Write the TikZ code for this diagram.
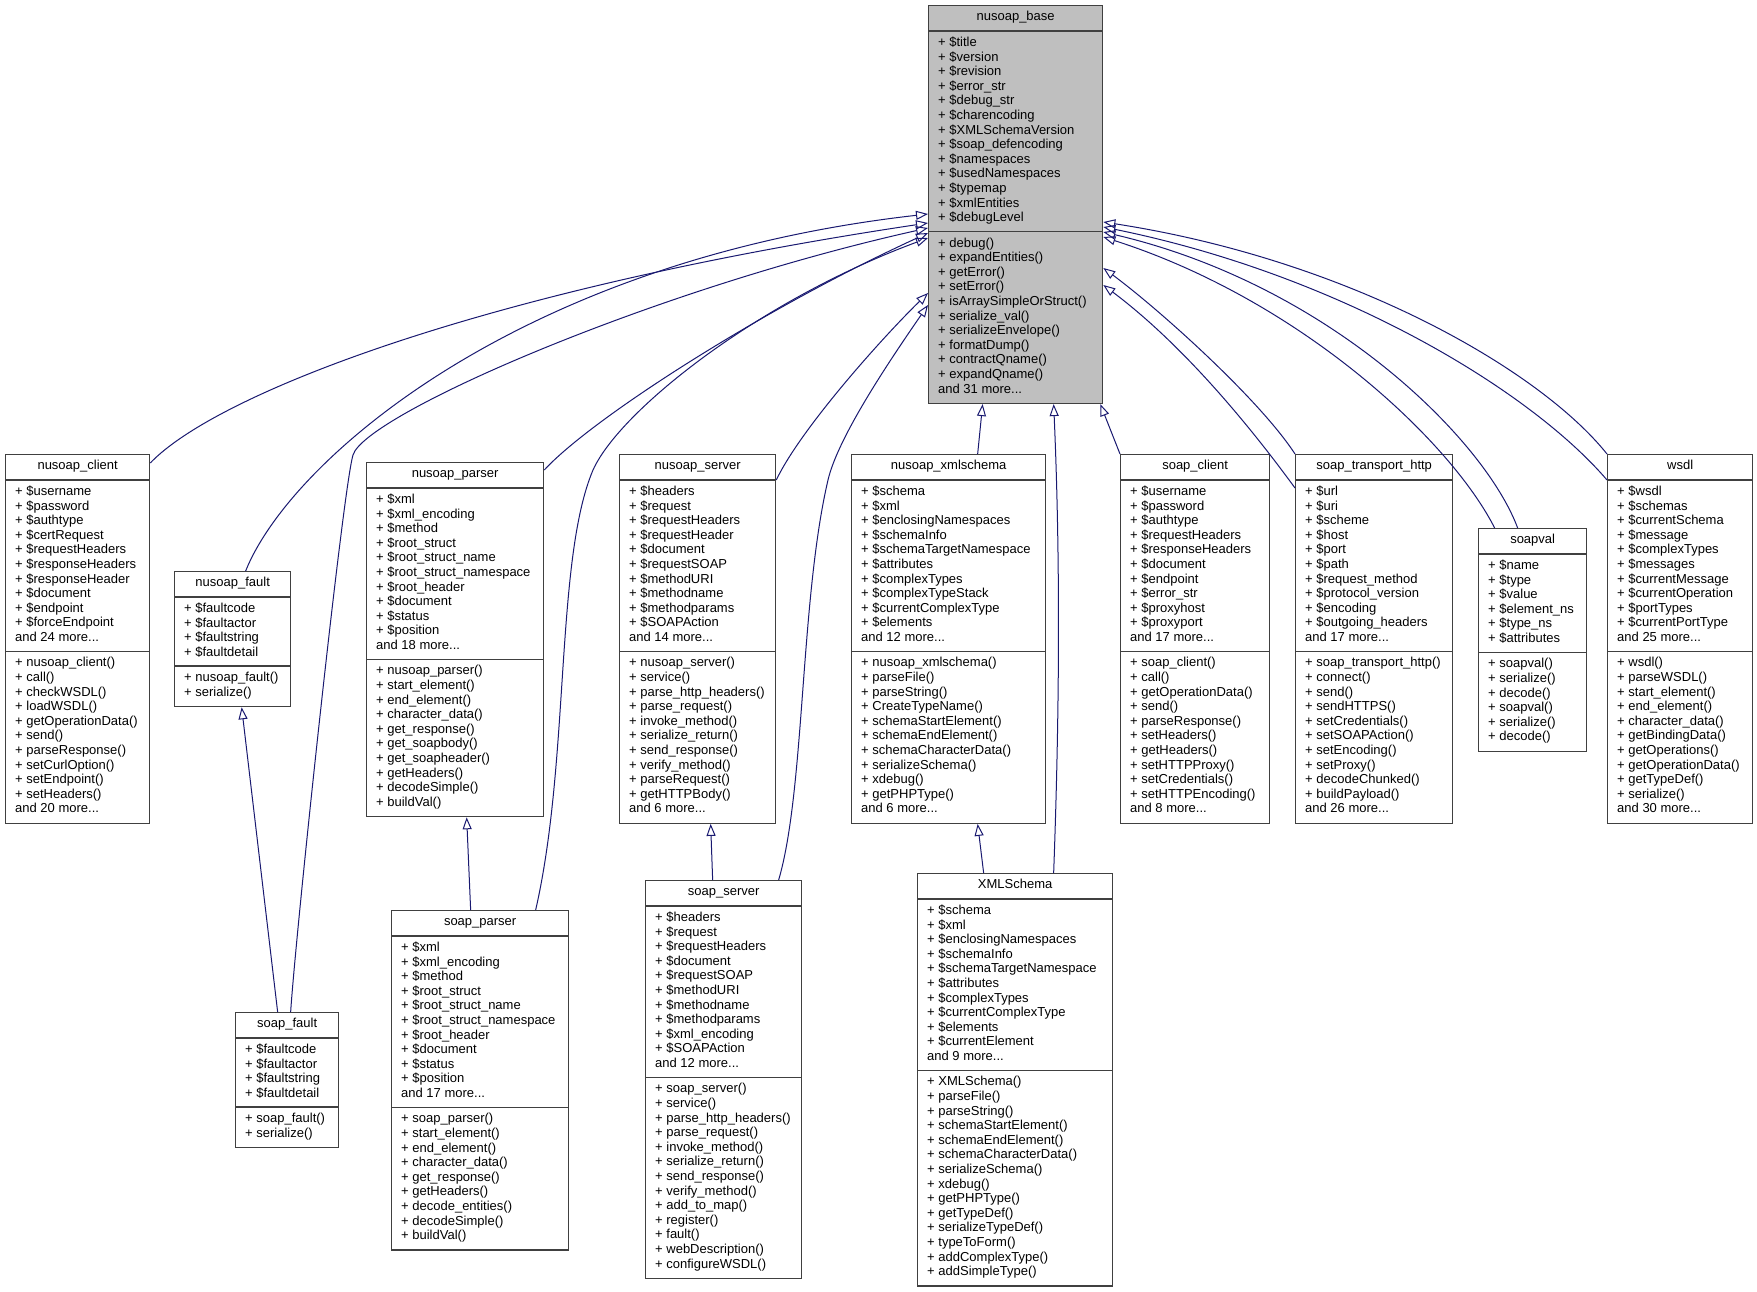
\documentclass[tikz,border=0pt]{standalone}
\usepackage{fontspec}
\setmainfont{Liberation Sans}
\usetikzlibrary{arrows.meta,calc}
\definecolor{edgeblue}{HTML}{191970}
\definecolor{basegray}{HTML}{BFBFBF}
\definecolor{boxline}{HTML}{404040}
\tikzset{
  classrect/.style={draw=boxline, line width=1.3pt, inner sep=0pt, anchor=north west},
  sepline/.style={draw=boxline, line width=1.3pt},
  titletext/.style={font=\fontsize{13}{14.6}\selectfont, inner sep=0pt, anchor=base},
  listtext/.style={font=\fontsize{13}{14.6}\selectfont, inner sep=0pt, align=left, anchor=north west},
  inherit/.style={draw=edgeblue, line width=1pt, -{Triangle[open,length=12pt,width=9pt]}},
}
\newcommand\classbox[9]{%
  \def\cbfill{#1}\def\cbid{#2}\def\cbx{#3}\def\cbtop{#4}\def\cbw{#5}%
  \def\cbna{#6}\def\cbnm{#7}\def\cbtitle{#8}\def\cbattrs{#9}%
  \classboxrest}
\newcommand\classboxrest[1]{%
  \pgfmathsetmacro\cbha{26+\cbna*14.6+10.7}%
  \pgfmathsetmacro\cbh{\cbha+\cbnm*14.6+10.7}%
  \node[classrect, fill=\cbfill, minimum width=\cbw pt, minimum height=\cbh pt] (\cbid) at (\cbx,\cbtop) {};
  \draw[sepline] ($(\cbid.north west)+(0,26)$) -- ++(\cbw,0);
  \draw[sepline] ($(\cbid.north west)+(0,\cbha)$) -- ++(\cbw,0);
  \node[titletext] (\cbid-t) at ($(\cbid.north)+(0,15.3)$) {\cbtitle};
  \node[listtext] (\cbid-a) at ($(\cbid.north west)+(10,30.3)$) {\rule{0pt}{11pt}\cbattrs};
  \node[listtext] (\cbid-m) at ($(\cbid.north west)+(10,\cbha+4.3)$) {\rule{0pt}{11pt}#1};
}
\begin{document}
\begin{tikzpicture}[x=1pt,y=-1pt]
\fill[white] (0,0) rectangle (1757,1292);
\useasboundingbox (0,0) rectangle (1757,1292);

\classbox{basegray}{base}{928}{5}{174}{13}{11}{nusoap\_base}
{+ \$title\\+ \$version\\+ \$revision\\+ \$error\_str\\+ \$debug\_str\\+ \$charencoding\\+ \$XMLSchemaVersion\\+ \$soap\_defencoding\\+ \$namespaces\\+ \$usedNamespaces\\+ \$typemap\\+ \$xmlEntities\\+ \$debugLevel}
{+ debug()\\+ expandEntities()\\+ getError()\\+ setError()\\+ isArraySimpleOrStruct()\\+ serialize\_val()\\+ serializeEnvelope()\\+ formatDump()\\+ contractQname()\\+ expandQname()\\and 31 more...}

\classbox{white}{nclient}{5}{454}{144}{11}{11}{nusoap\_client}
{+ \$username\\+ \$password\\+ \$authtype\\+ \$certRequest\\+ \$requestHeaders\\+ \$responseHeaders\\+ \$responseHeader\\+ \$document\\+ \$endpoint\\+ \$forceEndpoint\\and 24 more...}
{+ nusoap\_client()\\+ call()\\+ checkWSDL()\\+ loadWSDL()\\+ getOperationData()\\+ send()\\+ parseResponse()\\+ setCurlOption()\\+ setEndpoint()\\+ setHeaders()\\and 20 more...}

\classbox{white}{nfault}{174}{571}{116}{4}{2}{nusoap\_fault}
{+ \$faultcode\\+ \$faultactor\\+ \$faultstring\\+ \$faultdetail}
{+ nusoap\_fault()\\+ serialize()}

\classbox{white}{sfault}{235}{1012}{103}{4}{2}{soap\_fault}
{+ \$faultcode\\+ \$faultactor\\+ \$faultstring\\+ \$faultdetail}
{+ soap\_fault()\\+ serialize()}

\classbox{white}{nparser}{366}{462}{177}{11}{10}{nusoap\_parser}
{+ \$xml\\+ \$xml\_encoding\\+ \$method\\+ \$root\_struct\\+ \$root\_struct\_name\\+ \$root\_struct\_namespace\\+ \$root\_header\\+ \$document\\+ \$status\\+ \$position\\and 18 more...}
{+ nusoap\_parser()\\+ start\_element()\\+ end\_element()\\+ character\_data()\\+ get\_response()\\+ get\_soapbody()\\+ get\_soapheader()\\+ getHeaders()\\+ decodeSimple()\\+ buildVal()}

\classbox{white}{sparser}{391}{910}{177}{11}{9}{soap\_parser}
{+ \$xml\\+ \$xml\_encoding\\+ \$method\\+ \$root\_struct\\+ \$root\_struct\_name\\+ \$root\_struct\_namespace\\+ \$root\_header\\+ \$document\\+ \$status\\+ \$position\\and 17 more...}
{+ soap\_parser()\\+ start\_element()\\+ end\_element()\\+ character\_data()\\+ get\_response()\\+ getHeaders()\\+ decode\_entities()\\+ decodeSimple()\\+ buildVal()}

\classbox{white}{nserver}{619}{454}{156}{11}{11}{nusoap\_server}
{+ \$headers\\+ \$request\\+ \$requestHeaders\\+ \$requestHeader\\+ \$document\\+ \$requestSOAP\\+ \$methodURI\\+ \$methodname\\+ \$methodparams\\+ \$SOAPAction\\and 14 more...}
{+ nusoap\_server()\\+ service()\\+ parse\_http\_headers()\\+ parse\_request()\\+ invoke\_method()\\+ serialize\_return()\\+ send\_response()\\+ verify\_method()\\+ parseRequest()\\+ getHTTPBody()\\and 6 more...}

\classbox{white}{sserver}{645}{880}{156}{11}{13}{soap\_server}
{+ \$headers\\+ \$request\\+ \$requestHeaders\\+ \$document\\+ \$requestSOAP\\+ \$methodURI\\+ \$methodname\\+ \$methodparams\\+ \$xml\_encoding\\+ \$SOAPAction\\and 12 more...}
{+ soap\_server()\\+ service()\\+ parse\_http\_headers()\\+ parse\_request()\\+ invoke\_method()\\+ serialize\_return()\\+ send\_response()\\+ verify\_method()\\+ add\_to\_map()\\+ register()\\+ fault()\\+ webDescription()\\+ configureWSDL()}

\classbox{white}{nxml}{851}{454}{194}{11}{11}{nusoap\_xmlschema}
{+ \$schema\\+ \$xml\\+ \$enclosingNamespaces\\+ \$schemaInfo\\+ \$schemaTargetNamespace\\+ \$attributes\\+ \$complexTypes\\+ \$complexTypeStack\\+ \$currentComplexType\\+ \$elements\\and 12 more...}
{+ nusoap\_xmlschema()\\+ parseFile()\\+ parseString()\\+ CreateTypeName()\\+ schemaStartElement()\\+ schemaEndElement()\\+ schemaCharacterData()\\+ serializeSchema()\\+ xdebug()\\+ getPHPType()\\and 6 more...}

\classbox{white}{xmls}{917}{873}{195}{11}{14}{XMLSchema}
{+ \$schema\\+ \$xml\\+ \$enclosingNamespaces\\+ \$schemaInfo\\+ \$schemaTargetNamespace\\+ \$attributes\\+ \$complexTypes\\+ \$currentComplexType\\+ \$elements\\+ \$currentElement\\and 9 more...}
{+ XMLSchema()\\+ parseFile()\\+ parseString()\\+ schemaStartElement()\\+ schemaEndElement()\\+ schemaCharacterData()\\+ serializeSchema()\\+ xdebug()\\+ getPHPType()\\+ getTypeDef()\\+ serializeTypeDef()\\+ typeToForm()\\+ addComplexType()\\+ addSimpleType()}

\classbox{white}{sclient}{1120}{454}{149}{11}{11}{soap\_client}
{+ \$username\\+ \$password\\+ \$authtype\\+ \$requestHeaders\\+ \$responseHeaders\\+ \$document\\+ \$endpoint\\+ \$error\_str\\+ \$proxyhost\\+ \$proxyport\\and 17 more...}
{+ soap\_client()\\+ call()\\+ getOperationData()\\+ send()\\+ parseResponse()\\+ setHeaders()\\+ getHeaders()\\+ setHTTPProxy()\\+ setCredentials()\\+ setHTTPEncoding()\\and 8 more...}

\classbox{white}{sth}{1295}{454}{157}{11}{11}{soap\_transport\_http}
{+ \$url\\+ \$uri\\+ \$scheme\\+ \$host\\+ \$port\\+ \$path\\+ \$request\_method\\+ \$protocol\_version\\+ \$encoding\\+ \$outgoing\_headers\\and 17 more...}
{+ soap\_transport\_http()\\+ connect()\\+ send()\\+ sendHTTPS()\\+ setCredentials()\\+ setSOAPAction()\\+ setEncoding()\\+ setProxy()\\+ decodeChunked()\\+ buildPayload()\\and 26 more...}

\classbox{white}{sval}{1478}{528}{108}{6}{6}{soapval}
{+ \$name\\+ \$type\\+ \$value\\+ \$element\_ns\\+ \$type\_ns\\+ \$attributes}
{+ soapval()\\+ serialize()\\+ decode()\\+ soapval()\\+ serialize()\\+ decode()}

\classbox{white}{wsdl}{1607}{454}{145}{11}{11}{wsdl}
{+ \$wsdl\\+ \$schemas\\+ \$currentSchema\\+ \$message\\+ \$complexTypes\\+ \$messages\\+ \$currentMessage\\+ \$currentOperation\\+ \$portTypes\\+ \$currentPortType\\and 25 more...}
{+ wsdl()\\+ parseWSDL()\\+ start\_element()\\+ end\_element()\\+ character\_data()\\+ getBindingData()\\+ getOperations()\\+ getOperationData()\\+ getTypeDef()\\+ serialize()\\and 30 more...}

% ---- inheritance edges ----
\draw[inherit] ($(nfault.north)+(13,0)$) .. controls (290,460) and (520,260) .. ($(base.north west)+(0,209)$);
\draw[inherit] ($(nclient.north east)+(0,9)$) .. controls (215,395) and (480,290) .. ($(base.north west)+(0,218)$);
\draw[inherit] ($(sfault.north)+(3.5,0)$) .. controls (296,930) and (343,488) .. (353,455) .. controls (365,415) and (650,290) .. ($(base.north west)+(0,223)$);
\draw[inherit] ($(sfault.north)+(-9.5,0)$) -- ($(nfault.south)+(9,0)$);
\draw[inherit] ($(nparser.north east)+(0,8)$) .. controls (590,420) and (760,310) .. ($(base.north west)+(0,228)$);
\draw[inherit] ($(sparser.north)+(55.5,0)$) .. controls (570,760) and (555,560) .. (593,470) .. controls (620,410) and (760,300) .. ($(base.north west)+(0,233)$);
\draw[inherit] ($(sparser.north)+(-9.5,0)$) -- ($(nparser.south)+(11.5,0)$);
\draw[inherit] ($(nserver.north east)+(0,26)$) .. controls (800,430) and (880,340) .. ($(base.north west)+(0,288)$);
\draw[inherit] ($(sserver.north)+(55,0)$) .. controls (805,790) and (800,600) .. (828,480) .. controls (838,437) and (890,360) .. ($(base.north west)+(0,300)$);
\draw[inherit] ($(sserver.north)+(-11,0)$) -- ($(nserver.south)+(13,0)$);
\draw[inherit] ($(nxml.north)+(29,0)$) -- ($(base.south)+(-33,0)$);
\draw[inherit] ($(xmls.north)+(38.5,0)$) .. controls (1060,700) and (1060,550) .. ($(base.south)+(38,0)$);
\draw[inherit] ($(xmls.north)+(-31.5,0)$) -- ($(nxml.south)+(29,0)$);
\draw[inherit] (sclient.north west) -- ($(base.south east)+(-3,0)$);
\draw[inherit] (sth.north west) .. controls (1260,400) and (1160,310) .. ($(base.north east)+(0,263)$);
\draw[inherit] ($(sth.north west)+(0,34)$) .. controls (1260,440) and (1190,350) .. ($(base.north east)+(0,280)$);
\draw[inherit] ($(sval.north)+(-38,0)$) .. controls (1450,440) and (1300,300) .. ($(base.north east)+(0,232)$);
\draw[inherit] ($(sval.north)+(-15,0)$) .. controls (1485,440) and (1330,285) .. ($(base.north east)+(0,227)$);
\draw[inherit] (wsdl.north west) .. controls (1540,370) and (1350,260) .. ($(base.north east)+(0,217)$);
\draw[inherit] ($(wsdl.north west)+(0,26)$) .. controls (1530,390) and (1340,275) .. ($(base.north east)+(0,222)$);
\end{tikzpicture}
\end{document}
